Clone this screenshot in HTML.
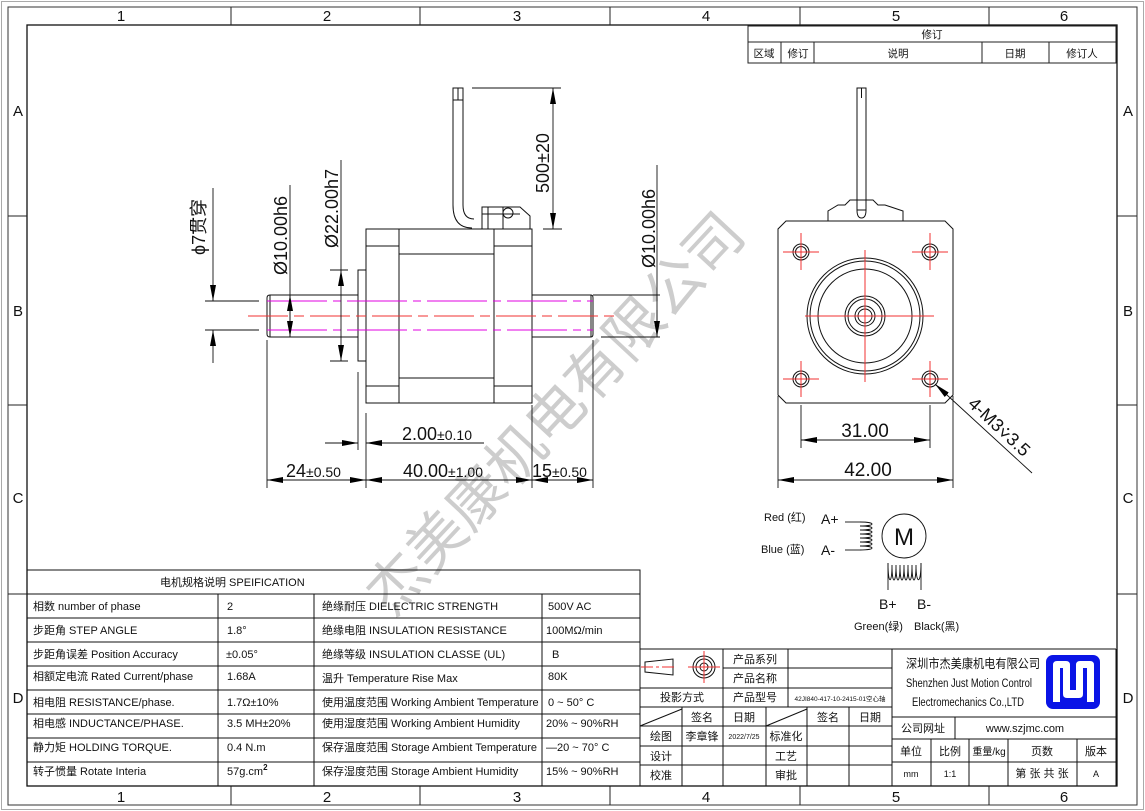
<!DOCTYPE html>
<html><head><meta charset="utf-8"><style>
html,body{margin:0;padding:0;background:#fff}
svg{display:block}
text{font-family:"Liberation Sans","Noto Sans CJK SC",sans-serif;fill:#111}
.t{font-size:11px}
.n{font-size:10.5px}
</style></head><body>
<svg width="1145" height="811" viewBox="0 0 1145 811" xmlns="http://www.w3.org/2000/svg">
<defs>
<marker id="a" viewBox="0 0 16 6" refX="16" refY="3" markerWidth="16" markerHeight="6" markerUnits="userSpaceOnUse" orient="auto-start-reverse"><path d="M0,0L16,3L0,6z" fill="#000"/></marker>
</defs>
<rect x="0" y="0" width="1145" height="811" fill="#fff"/>
<rect x="1.5" y="1.5" width="1142" height="808" fill="none" stroke="#aaa" stroke-width="1"/>
<rect x="8" y="7" width="1129" height="798" fill="none" stroke="#333" stroke-width="1"/>
<rect x="27" y="25" width="1090" height="761" fill="none" stroke="#111" stroke-width="1.3"/>
<g stroke="#222" stroke-width="1">
<line x1="231" y1="7" x2="231" y2="25"/><line x1="420" y1="7" x2="420" y2="25"/><line x1="610" y1="7" x2="610" y2="25"/><line x1="800" y1="7" x2="800" y2="25"/><line x1="989" y1="7" x2="989" y2="25"/>
<line x1="231" y1="786" x2="231" y2="805"/><line x1="420" y1="786" x2="420" y2="805"/><line x1="610" y1="786" x2="610" y2="805"/><line x1="800" y1="786" x2="800" y2="805"/><line x1="989" y1="786" x2="989" y2="805"/>
<line x1="8" y1="216" x2="27" y2="216"/><line x1="8" y1="405" x2="27" y2="405"/><line x1="8" y1="594" x2="27" y2="594"/>
<line x1="1117" y1="216" x2="1137" y2="216"/><line x1="1117" y1="405" x2="1137" y2="405"/><line x1="1117" y1="594" x2="1137" y2="594"/>
</g>
<g font-size="15" text-anchor="middle">
<text x="121" y="21">1</text><text x="327" y="21">2</text><text x="517" y="21">3</text><text x="706" y="21">4</text><text x="896" y="21">5</text><text x="1064" y="21">6</text>
<text x="121" y="802">1</text><text x="327" y="802">2</text><text x="517" y="802">3</text><text x="706" y="802">4</text><text x="896" y="802">5</text><text x="1064" y="802">6</text>
<text x="18" y="116">A</text><text x="18" y="316">B</text><text x="18" y="503">C</text><text x="18" y="703">D</text>
<text x="1128" y="116">A</text><text x="1128" y="316">B</text><text x="1128" y="503">C</text><text x="1128" y="703">D</text>
</g>
<g stroke="#222" stroke-width="1" fill="none">
<rect x="748" y="26" width="368" height="37"/>
<line x1="748" y1="42" x2="1116" y2="42"/>
<line x1="781" y1="42" x2="781" y2="63"/><line x1="814" y1="42" x2="814" y2="63"/><line x1="982" y1="42" x2="982" y2="63"/><line x1="1049" y1="42" x2="1049" y2="63"/>
</g>
<g class="n" text-anchor="middle" font-size="10">
<text x="932" y="38">修订</text><text x="764" y="57">区域</text><text x="798" y="57">修订</text><text x="898" y="57">说明</text><text x="1015" y="57">日期</text><text x="1082" y="57">修订人</text>
</g>

<text x="0" y="0" font-size="58" style="fill:#cdcdcd" transform="translate(392,618) rotate(-47)" font-family="Noto Serif CJK SC, serif">杰美康机电有限公司</text>

<g stroke="#111" stroke-width="1" fill="none">
<rect x="366" y="229" width="166" height="174"/>
<line x1="399" y1="229" x2="399" y2="403"/><line x1="494" y1="229" x2="494" y2="403"/>
<line x1="366" y1="246" x2="399" y2="246"/><line x1="494" y1="246" x2="532" y2="246"/>
<line x1="366" y1="386" x2="399" y2="386"/><line x1="494" y1="386" x2="532" y2="386"/>
<line x1="399" y1="254" x2="494" y2="254"/><line x1="399" y1="378" x2="494" y2="378"/>
<rect x="358" y="270" width="8" height="91"/>
<path d="M270,295 H358 M270,337 H358 M270,295 Q267,295 267,298 V334 Q267,337 270,337 M270,295 V337"/>
<path d="M532,295 H591 Q593,295 593,298 V334 Q593,337 591,337 H532 M591,295 V337"/>
<path d="M453,100 V205 Q453,228 472,228 M463,100 V205 Q463,219 474,219"/>
<rect x="453" y="88" width="10" height="12"/><line x1="458" y1="88" x2="458" y2="100"/>
<path d="M482,229 V207 H520 L530,216 V229 M482,214 H520 M488,207 V229 M503,207 V229"/>
<circle cx="508" cy="213" r="5"/>
</g>
<g stroke-width="1" fill="none">
<line x1="267" y1="301" x2="593" y2="301" stroke="#e000e0" stroke-dasharray="60,6,8,6"/>
<line x1="267" y1="330" x2="593" y2="330" stroke="#e000e0" stroke-dasharray="60,6,8,6"/>
<line x1="248" y1="316" x2="617" y2="316" stroke="#f03030" stroke-dasharray="40,6,10,6"/>
</g>
<g stroke="#111" stroke-width="0.9" fill="none">
<line x1="472" y1="88" x2="561" y2="88"/><line x1="543" y1="229" x2="562" y2="229"/>
<line x1="553" y1="88" x2="553" y2="229" marker-start="url(#a)" marker-end="url(#a)"/>
<line x1="341" y1="160" x2="341" y2="270" /><line x1="330" y1="270" x2="348" y2="270"/><line x1="330" y1="361" x2="348" y2="361"/>
<line x1="341" y1="290" x2="341" y2="270" marker-end="url(#a)"/><line x1="341" y1="290" x2="341" y2="361" marker-end="url(#a)"/>
<line x1="290" y1="185" x2="290" y2="337"/><line x1="290" y1="316" x2="290" y2="295" marker-end="url(#a)"/><line x1="290" y1="316" x2="290" y2="337" marker-end="url(#a)"/>
<line x1="205" y1="301" x2="259" y2="301"/><line x1="205" y1="330" x2="259" y2="330"/>
<line x1="213" y1="188" x2="213" y2="301" marker-end="url(#a)"/><line x1="213" y1="363" x2="213" y2="330" marker-end="url(#a)"/>
<line x1="660" y1="295" x2="593" y2="295"/><line x1="601" y1="337" x2="660" y2="337"/>
<line x1="657" y1="165" x2="657" y2="337"/><line x1="657" y1="310" x2="657" y2="337" marker-end="url(#a)"/>
<line x1="358" y1="372" x2="358" y2="450"/><line x1="366" y1="413" x2="366" y2="488"/>
<line x1="325" y1="443" x2="358" y2="443" marker-end="url(#a)"/><line x1="484" y1="443" x2="366" y2="443" marker-end="url(#a)"/>
<line x1="267" y1="340" x2="267" y2="488"/><line x1="532" y1="405" x2="532" y2="488"/><line x1="593" y1="340" x2="593" y2="488"/>
<line x1="267" y1="480" x2="366" y2="480" marker-start="url(#a)" marker-end="url(#a)"/>
<line x1="366" y1="480" x2="532" y2="480" marker-start="url(#a)" marker-end="url(#a)"/>
<line x1="532" y1="480" x2="593" y2="480" marker-start="url(#a)" marker-end="url(#a)"/>
</g>
<g font-size="18">
<text transform="translate(549,193) rotate(-90)">500±20</text>
<text transform="translate(338,248) rotate(-90)">Ø22.00h7</text>
<text transform="translate(287,275) rotate(-90)">Ø10.00h6</text>
<text transform="translate(205,255) rotate(-90)">ϕ7贯穿</text>
<text transform="translate(655,268) rotate(-90)">Ø10.00h6</text>
<text x="402" y="440">2.00<tspan font-size="14">±0.10</tspan></text>
<text x="286" y="477">24<tspan font-size="14">±0.50</tspan></text>
<text x="403" y="477">40.00<tspan font-size="14">±1.00</tspan></text>
<text x="532" y="477">15<tspan font-size="14">±0.50</tspan></text>
</g>

<g stroke="#111" stroke-width="1" fill="none">
<path d="M786,221 H945 L953,229 V395 L945,403 H786 L778,395 V229 Z"/>
<path d="M828,221 V211 L838,205 H845 L850,200 H873 L878,205 H885 L903,211 V221"/>
<rect x="857" y="88" width="9" height="122"/><line x1="861.5" y1="88" x2="861.5" y2="98"/>
<path d="M857,210 Q857,218 861.5,218 Q866,218 866,210"/>
<circle cx="865" cy="316" r="58"/><circle cx="865" cy="316" r="55"/><circle cx="865" cy="316" r="47"/>
<circle cx="865" cy="316" r="20"/><circle cx="865" cy="316" r="17"/><circle cx="865" cy="316" r="10"/><circle cx="865" cy="316" r="7"/>
<circle cx="801" cy="252" r="8"/><circle cx="801" cy="252" r="5.5"/>
<circle cx="930" cy="252" r="8"/><circle cx="930" cy="252" r="5.5"/>
<circle cx="801" cy="379" r="8"/><circle cx="801" cy="379" r="5.5"/>
<circle cx="930" cy="379" r="8"/><circle cx="930" cy="379" r="5.5"/>
</g>
<g stroke="#f03030" stroke-width="1">
<line x1="805" y1="316" x2="934" y2="316"/><line x1="865" y1="250" x2="865" y2="382"/>
<line x1="783" y1="252" x2="819" y2="252"/><line x1="801" y1="233" x2="801" y2="270"/>
<line x1="912" y1="252" x2="948" y2="252"/><line x1="930" y1="233" x2="930" y2="270"/>
<line x1="783" y1="379" x2="819" y2="379"/><line x1="801" y1="361" x2="801" y2="397"/>
<line x1="912" y1="379" x2="948" y2="379"/><line x1="930" y1="361" x2="930" y2="397"/>
</g>
<g stroke="#111" stroke-width="0.9" fill="none">
<line x1="801" y1="405" x2="801" y2="448"/><line x1="930" y1="405" x2="930" y2="448"/>
<line x1="778" y1="396" x2="778" y2="488"/><line x1="953" y1="396" x2="953" y2="488"/>
<line x1="801" y1="440" x2="930" y2="440" marker-start="url(#a)" marker-end="url(#a)"/>
<line x1="778" y1="480" x2="953" y2="480" marker-start="url(#a)" marker-end="url(#a)"/>
<line x1="1032" y1="473" x2="935" y2="384" marker-end="url(#a)"/>
</g>
<g font-size="19" text-anchor="middle">
<text x="865" y="437">31.00</text><text x="868" y="476">42.00</text>
</g>
<text font-size="18" transform="translate(967,405) rotate(43)">4-M3⩒3.5</text>

<g font-size="11" fill="#333">
<text x="764" y="521">Red (红)</text>
<text x="761" y="553">Blue (蓝)</text>
<text x="854" y="630">Green(绿)</text>
<text x="914" y="630">Black(黑)</text>
</g>
<g font-size="14"><text x="821" y="524">A+</text><text x="821" y="555">A-</text><text x="879" y="609">B+</text><text x="917" y="609">B-</text></g>
<g stroke="#111" stroke-width="0.9" fill="none">
<line x1="845" y1="522" x2="860" y2="522"/><line x1="845" y1="550" x2="860" y2="550"/>
<path d="M860,522 C876,522 876,526 860,526 C876,526 876,530 860,530 C876,530 876,534 860,534 C876,534 876,538 860,538 C876,538 876,542 860,542 C876,542 876,546 860,546 C876,546 876,550 860,550"/>
<circle cx="904" cy="536" r="22"/>
<line x1="888" y1="563" x2="888" y2="590"/><line x1="921" y1="563" x2="921" y2="590"/>
<path d="M888,563 C888,585 892,585 892,565 C892,585 896,585 896,565 C896,585 900,585 900,565 C900,585 904,585 904,565 C904,585 908,585 908,565 C908,585 912,585 912,565 C912,585 916,585 916,565 C916,585 921,585 921,563"/>
</g>
<text x="904" y="545" font-size="24" text-anchor="middle">M</text>

<g stroke="#111" stroke-width="1" fill="none">
<rect x="27" y="570" width="613" height="216"/>
<line x1="27" y1="594" x2="640" y2="594"/>
<line x1="27" y1="618" x2="640" y2="618"/><line x1="27" y1="642" x2="640" y2="642"/><line x1="27" y1="666" x2="640" y2="666"/><line x1="27" y1="690" x2="640" y2="690"/><line x1="27" y1="714" x2="640" y2="714"/><line x1="27" y1="738" x2="640" y2="738"/><line x1="27" y1="762" x2="640" y2="762"/>
<line x1="218" y1="594" x2="218" y2="786"/><line x1="314" y1="594" x2="314" y2="786"/><line x1="542" y1="594" x2="542" y2="786"/>
</g>
<g class="t" font-size="11">
<text x="160" y="586">电机规格说明 SPEIFICATION</text>
<text x="33" y="610">相数 number of phase</text><text x="227" y="610">2</text><text x="322" y="610">绝缘耐压 DIELECTRIC STRENGTH</text><text x="548" y="610">500V AC</text>
<text x="33" y="634">步距角 STEP ANGLE</text><text x="227" y="634">1.8°</text><text x="322" y="634">绝缘电阻 INSULATION RESISTANCE</text><text x="546" y="634">100MΩ/min</text>
<text x="33" y="658">步距角误差 Position Accuracy</text><text x="226" y="658">±0.05°</text><text x="322" y="658">绝缘等级 INSULATION CLASSE (UL)</text><text x="552" y="658">B</text>
<text x="33" y="680">相额定电流 Rated Current/phase</text><text x="227" y="680">1.68A</text><text x="322" y="682">温升 Temperature Rise Max</text><text x="548" y="680">80K</text>
<text x="33" y="706">相电阻 RESISTANCE/phase.</text><text x="227" y="706">1.7Ω±10%</text><text x="322" y="706">使用温度范围 Working Ambient Temperature</text><text x="548" y="706">0 ~ 50° C</text>
<text x="33" y="727">相电感 INDUCTANCE/PHASE.</text><text x="227" y="727">3.5 MH±20%</text><text x="322" y="727">使用湿度范围 Working Ambient Humidity</text><text x="546" y="727">20% ~ 90%RH</text>
<text x="33" y="751">静力矩 HOLDING TORQUE.</text><text x="227" y="751">0.4 N.m</text><text x="322" y="751">保存温度范围 Storage Ambient Temperature</text><text x="546" y="751">—20 ~ 70° C</text>
<text x="33" y="775">转子惯量 Rotate Interia</text><text x="227" y="775">57g.cm<tspan font-size="8" dy="-5" font-weight="bold">2</tspan></text><text x="322" y="775">保存湿度范围 Storage Ambient Humidity</text><text x="546" y="775">15% ~ 90%RH</text>
</g>

<g stroke="#111" stroke-width="1" fill="none">
<line x1="640" y1="649" x2="1116" y2="649"/>
<line x1="1116" y1="649" x2="1116" y2="786"/>
<line x1="723" y1="668" x2="892" y2="668"/><line x1="640" y1="688" x2="892" y2="688"/><line x1="640" y1="707" x2="892" y2="707"/>
<line x1="640" y1="726" x2="892" y2="726"/><line x1="640" y1="746" x2="892" y2="746"/><line x1="640" y1="765" x2="892" y2="765"/>
<line x1="723" y1="649" x2="723" y2="707"/><line x1="788" y1="649" x2="788" y2="707"/>
<line x1="682" y1="707" x2="682" y2="786"/><line x1="723" y1="707" x2="723" y2="786"/><line x1="766" y1="707" x2="766" y2="786"/><line x1="807" y1="707" x2="807" y2="786"/><line x1="849" y1="707" x2="849" y2="786"/>
<line x1="892" y1="649" x2="892" y2="786"/>
<line x1="640" y1="726" x2="682" y2="709"/><line x1="766" y1="726" x2="807" y2="709"/>
<line x1="892" y1="717" x2="1116" y2="717"/><line x1="892" y1="739" x2="1116" y2="739"/><line x1="892" y1="762" x2="1116" y2="762"/>
<line x1="955" y1="717" x2="955" y2="739"/>
<line x1="931" y1="739" x2="931" y2="786"/><line x1="969" y1="739" x2="969" y2="786"/><line x1="1008" y1="739" x2="1008" y2="786"/><line x1="1077" y1="739" x2="1077" y2="786"/>
<path d="M645,662 L673,659 V675 L645,672 Z"/>
<circle cx="704" cy="667" r="11"/><circle cx="704" cy="667" r="8"/><circle cx="704" cy="667" r="4"/>
</g>
<g stroke="#f03030" stroke-width="1"><line x1="641" y1="667" x2="677" y2="667" stroke-dasharray="12,3,3,3"/><line x1="688" y1="667" x2="720" y2="667"/><line x1="704" y1="651" x2="704" y2="683"/></g>
<g font-size="11" text-anchor="middle">
<text x="755" y="663">产品系列</text><text x="755" y="682">产品名称</text><text x="755" y="701">产品型号</text><text x="682" y="701">投影方式</text>
<text x="840" y="701" font-size="6.5">42JI840-417-10-2415-01空心轴</text>
<text x="702" y="721">签名</text><text x="744" y="721">日期</text><text x="828" y="721">签名</text><text x="870" y="721">日期</text>
<text x="661" y="740">绘图</text><text x="702" y="740">李章锋</text><text x="744" y="739" font-size="7">2022/7/25</text><text x="786" y="740">标准化</text>
<text x="661" y="760">设计</text><text x="786" y="760">工艺</text>
<text x="661" y="779">校准</text><text x="786" y="779">审批</text>
<text x="923" y="732">公司网址</text><text x="1025" y="732">www.szjmc.com</text>
<text x="911" y="755">单位</text><text x="950" y="755">比例</text><text x="989" y="755" font-size="10">重量/kg</text><text x="1042" y="755">页数</text><text x="1096" y="755">版本</text>
<text x="911" y="777" font-size="9">mm</text><text x="950" y="777" font-size="9">1:1</text><text x="1042" y="777">第 张 共 张</text><text x="1096" y="777" font-size="9">A</text>
</g>
<text x="906" y="668" font-size="12.5" textLength="134" lengthAdjust="spacingAndGlyphs">深圳市杰美康机电有限公司</text>
<text x="906" y="687" font-size="11.5" textLength="126" lengthAdjust="spacingAndGlyphs">Shenzhen Just Motion Control</text>
<text x="912" y="706" font-size="11.5" textLength="112" lengthAdjust="spacingAndGlyphs">Electromechanics Co.,LTD</text>
<rect x="1046" y="655" width="54" height="54" rx="7" fill="#0a14e6"/>
<path d="M1053,702 V665 Q1053,661 1057,661 H1066 Q1070,661 1070,665 V690 H1076 V665 Q1076,661 1080,661 H1090 Q1094,661 1094,665 V702 H1087 V668 H1083 V694 Q1083,698 1079,698 H1067 Q1063,698 1063,694 V668 H1060 V702 Z" fill="#fff"/>
</svg>
</body></html>
